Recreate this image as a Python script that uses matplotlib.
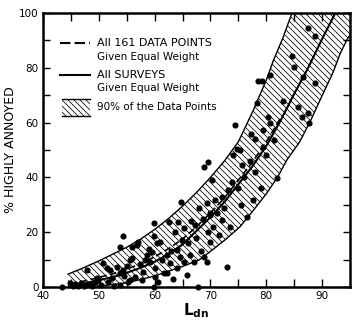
import numpy as np
import matplotlib.pyplot as plt
from matplotlib.patches import Rectangle, Polygon
from matplotlib.collections import LineCollection
from matplotlib.transforms import IdentityTransform

# Fitted curves (percent highly annoyed vs day-night level)
curve_ldn = [45, 47.5, 50, 52.5, 55, 57.5, 60, 62.5, 65, 67.5, 70, 72.5, 75,
             77.5, 80, 82.5, 85, 87.5, 90, 92.5]
surveys_pct = [0.5, 1.3, 2.5, 3.6, 5.2, 7.0, 9.2, 12.0, 15.5, 20.5, 25.5, 31.0,
               37.5, 44.0, 51.5, 60.5, 70.5, 80.0, 90.5, 100.5]

dashed_ldn = [45, 47.5, 50, 52.5, 55, 57.5, 60, 62.5, 65, 67.5, 70, 72.5, 75,
              77.5, 80, 82.5]
points_pct = [1.2, 2.2, 3.5, 4.8, 6.5, 8.5, 11.0, 14.0, 17.5, 22.0, 27.0, 32.5,
              39.0, 45.5, 53.0, 61.5]

# 90% band boundaries
upper_ldn = [44.5, 47, 50, 52.5, 55, 57.5, 60, 62.5, 65, 67.5, 70, 72.5, 75,
             77.7, 80, 81.3, 83, 84.6]
upper_pct = [4.7, 6.8, 9.5, 12.0, 14.5, 17.5, 21.0, 25.0, 29.5, 34.5, 40.0, 46.0,
             53.0, 64.6, 75.5, 82.8, 91.0, 100.0]
lower_ldn = [44.5, 50, 55, 60, 65, 68, 70, 72.5, 75.3, 77.5, 80, 82, 83.7, 86,
             88, 90.2, 92, 93.2, 94.4, 95]
lower_pct = [0.0, 0.3, 1.5, 4.0, 7.5, 9.9, 13.0, 17.0, 22.0, 27.5, 34.0, 40.0,
             46.4, 53.0, 61.0, 70.7, 78.5, 85.0, 90.0, 92.0]

# Survey data points
ldn = [43.4, 44.8, 45.3, 45.8, 46.3, 46.8, 47.3, 47.8, 48.2, 48.8, 49.3, 49.6,
       49.9, 50.4,
       50.8, 51.4, 51.7, 52.0, 52.3, 52.8, 53.2, 53.8, 53.8, 53.8, 54.3, 54.4,
       54.6, 55.2, 55.6, 55.9, 55.9, 55.6, 55.0,
       56.8, 56.5, 57.1, 57.3, 57.8, 58.0, 58.3, 58.6, 59.2, 59.5, 59.8, 59.8,
       59.8, 60.1, 60.1, 60.4, 60.6, 59.0,
       61.0, 61.6, 61.3, 62.2, 62.2, 62.5, 62.8, 63.0, 63.3, 63.7, 64.0, 64.2,
       64.5, 64.7, 64.9, 65.2, 64.0, 65.3,
       65.8, 66.0, 66.3, 66.5, 67.2, 67.0, 67.5, 67.8, 68.0, 68.3, 68.6, 68.9,
       68.9, 69.3, 69.3, 69.6, 69.9, 69.9, 69.5, 70.0, 70.2, 70.5,
       70.8, 71.2, 71.5, 72.0, 72.0, 72.5, 73.2, 73.5, 73.8, 74.1, 74.4, 74.7,
       75.0, 75.3, 75.6, 75.5, 76.0, 76.5, 72.9,
       77.0, 77.7, 78.0, 78.3, 78.6, 79.2, 79.5, 79.5, 79.0, 80.0, 80.7, 80.7,
       81.3, 81.9, 77.3, 78.0, 80.3,
       84.6, 85.0, 85.6, 86.6, 86.4, 87.5, 87.5, 87.7, 88.7, 88.7, 83.0]
pct = [0.0, 1.3, 0.5, 1.0, 0.3, 1.5, 0.5, 6.2, 1.0, 0.2, 1.8, 3.2,
       2.6, 0.8,
       8.6, 6.8, 1.9, 6.2, 3.2, 0.5, 7.4, 14.5, 5.0, 0.7, 18.6, 6.2,
       4.0, 2.0, 9.9, 14.5, 10.5, 2.4, 7.5,
       15.5, 3.5, 16.5, 8.5, 2.5, 5.6, 9.9, 11.5, 9.2, 12.9, 23.5, 18.6,
       0.0, 6.8, 3.8, 15.9, 2.0, 14.0,
       16.5, 5.0, 10.0, 11.7, 5.0, 23.8, 8.6, 13.0, 3.0, 20.2, 13.5, 23.8,
       11.0, 31.1, 17.0, 9.0, 7.0, 21.5,
       4.4, 15.9, 11.5, 24.0, 22.6, 9.0, 18.0, 0.0, 29.0, 13.0, 25.0, 43.9,
       11.1, 30.5, 9.2, 45.7, 26.3, 26.9, 20.0, 16.5, 39.0, 22.0,
       31.8, 27.0, 19.0, 33.0, 24.5, 29.0, 35.4, 22.0, 38.4, 48.2, 59.0, 50.2,
       36.0, 50.0, 44.5, 30.0, 40.0, 25.7, 7.4,
       46.0, 31.8, 42.1, 67.0, 75.3, 75.3, 57.3, 51.2, 36.0, 48.0, 77.4, 59.7,
       53.6, 39.7, 56.0, 54.0, 62.0,
       84.3, 80.4, 65.6, 76.7, 62.0, 94.4, 63.6, 59.7, 91.6, 74.6, 68.0]

plt.rcParams['font.family'] = 'DejaVu Sans'

fig = plt.figure(figsize=(3.59, 3.26), dpi=100)
ax = fig.add_axes([43/359, 39/326, 307/359, 274/326])
ax.set_xlim(40, 95)
ax.set_ylim(0, 100)
x0, x1 = ax.get_xlim()
y0, y1 = ax.get_ylim()


def hatch_lines(clip_patch, step=6.0, lw=0.55):
    # diagonal "\" strokes in pixel space, clipped to the given patch
    W, H = fig.bbox.width, fig.bbox.height
    segs = [[(c - H - 20, H + 20), (c + 20, -20)] for c in np.arange(0, W + H + 40, step)]
    lc = LineCollection(segs, colors='k', linewidths=lw, transform=IdentityTransform())
    ax.add_collection(lc, autolim=False)
    lc.set_clip_path(clip_patch)


# 90% band, closed along the top-right corner of the frame
band_x = upper_ldn + [x1] + lower_ldn[::-1]
band_y = upper_pct + [y1] + lower_pct[::-1]
band = Polygon(np.column_stack([band_x, band_y]), closed=True,
               facecolor='none', edgecolor='none')
ax.add_patch(band)
hatch_lines(band)
ax.plot(upper_ldn, upper_pct, 'k-', linewidth=1.0)
ax.plot(lower_ldn, lower_pct, 'k-', linewidth=1.0)

ax.plot(curve_ldn, surveys_pct, 'k-', linewidth=1.5)
ax.plot(dashed_ldn, points_pct, 'k', linewidth=1.2, dashes=(4, 2))

ax.plot(ldn, pct, 'ko', markersize=3.4, clip_on=False, zorder=5)

ax.set_xticks(range(40, 91, 10))
ax.set_xticks(range(45, 95, 5), minor=True)
ax.set_yticks(range(0, 101, 20))
ax.set_yticks(range(10, 100, 20), minor=True)
ax.tick_params(which='both', direction='in', top=True, right=True,
               labelsize=7.5, width=1.0, pad=3)
ax.tick_params(axis='x', which='both', length=6)
ax.tick_params(axis='y', which='both', length=5)
for s in ax.spines.values():
    s.set_linewidth(1.8)

ax.set_ylabel('% HIGHLY ANNOYED', fontsize=9)
ax.yaxis.set_label_coords(-0.085, 0.5)
ax.set_xlabel(r'$\mathbf{L_{dn}}$', fontsize=11, labelpad=0)
ax.xaxis.set_label_coords(0.49, -0.045, transform=None) if False else None

# legend drawn by hand
tr = ax.transAxes
ax.plot([0.055, 0.153], [0.891, 0.891], 'k', linewidth=1.5, dashes=(5, 2), transform=tr)
ax.text(0.176, 0.891, 'All 161 DATA POINTS', transform=tr, fontsize=8, va='center')
ax.text(0.176, 0.839, 'Given Equal Weight', transform=tr, fontsize=7.5, va='center')
ax.plot([0.055, 0.153], [0.774, 0.774], 'k-', linewidth=1.5, transform=tr)
ax.text(0.176, 0.774, 'All SURVEYS', transform=tr, fontsize=8, va='center')
ax.text(0.176, 0.726, 'Given Equal Weight', transform=tr, fontsize=7.5, va='center')
key = Rectangle((0.062, 0.624), 0.091, 0.062, transform=tr,
                facecolor='none', edgecolor='none')
ax.add_patch(key)
hatch_lines(key)
ax.plot([0.062, 0.153], [0.686, 0.686], 'k-', linewidth=1.0, transform=tr)
ax.plot([0.062, 0.153], [0.624, 0.624], 'k-', linewidth=1.0, transform=tr)
ax.text(0.176, 0.657, '90% of the Data Points', transform=tr, fontsize=7.5, va='center')

fig.savefig('out.png', dpi=100)
